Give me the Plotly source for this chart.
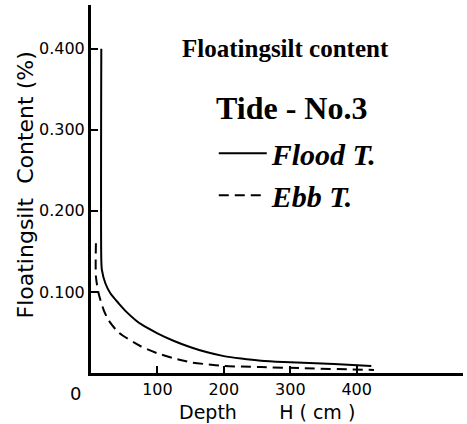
import plotly.graph_objects as go

# Depth H (cm) and floating silt content (%)
flood_depth = [15.5, 15.5, 16.4, 21.6, 29.1, 41.6, 54.1, 66.8, 74.8, 100, 125, 150, 175, 200, 226, 256, 290, 366, 422]
flood_content = [0.400, 0.1395, 0.1272, 0.1107, 0.0984, 0.0860, 0.0748, 0.0655, 0.0605, 0.0490, 0.0395,
                 0.0318, 0.0255, 0.0208, 0.0178, 0.0152, 0.0136, 0.0110, 0.0086]

ebb_depth = [7.4, 7.4, 11.5, 19, 26.5, 41.6, 74.8, 100, 125, 150, 175, 200, 226, 256, 316, 426]
ebb_content = [0.160, 0.119, 0.098, 0.078, 0.065, 0.050, 0.033, 0.0243, 0.0181, 0.0132, 0.0107,
               0.0088, 0.0079, 0.0073, 0.0060, 0.0037]

x_ticks = [100, 200, 300, 400]
y_ticks = [0.1, 0.2, 0.3, 0.4]
y_tick_labels = ["0.100", "0.200", "0.300", "0.400"]

hand = "DejaVu Sans"
serif = "Liberation Serif"

fig = go.Figure()
fig.add_trace(go.Scatter(x=flood_depth, y=flood_content, mode="lines", name="Flood T.",
                         line=dict(color="black", width=2, shape="spline", smoothing=0.7)))
fig.add_trace(go.Scatter(x=ebb_depth, y=ebb_content, mode="lines", name="Ebb T.",
                         line=dict(color="black", width=2, dash="10px,6px", shape="spline", smoothing=0.7)))

fig.update_layout(
    width=467, height=424,
    margin=dict(l=91, r=4, t=5, b=51),
    paper_bgcolor="white", plot_bgcolor="white",
    showlegend=True,
    legend=dict(
        x=0.33, y=0.668, xanchor="left", yanchor="top",
        font=dict(family=serif, size=30, color="black", weight="bold", style="italic"),
        bgcolor="rgba(0,0,0,0)", itemwidth=48, tracegroupgap=0,
    ),
    xaxis=dict(range=[0, 560], showline=True, linecolor="black", linewidth=3,
               showgrid=False, zeroline=False, ticks="inside", ticklen=7, tickwidth=2,
               tickcolor="black", tickvals=x_ticks,
               tickfont=dict(family=hand, size=16, color="black")),
    yaxis=dict(range=[0, 0.454], showline=True, linecolor="black", linewidth=3,
               showgrid=False, zeroline=False, ticks="inside", ticklen=7, tickwidth=2,
               tickcolor="black", tickvals=y_ticks, ticktext=y_tick_labels,
               tickfont=dict(family=hand, size=16, color="black")),
    annotations=[
        dict(text="Floatingsilt content", xref="paper", yref="paper", x=0.523, y=0.883,
             xanchor="center", yanchor="middle",
             showarrow=False, font=dict(family=serif, size=25, color="black", weight="bold")),
        dict(text="Tide - No.3", xref="paper", yref="paper", x=0.54, y=0.72,
             xanchor="center", yanchor="middle",
             showarrow=False, font=dict(family=serif, size=32, color="black", weight="bold")),
        dict(text="Floatingsilt  Content (%)", xref="paper", yref="paper", x=-0.177, y=0.51,
             xanchor="center", yanchor="middle",
             textangle=-90, showarrow=False, font=dict(family=hand, size=22, color="black")),
        dict(text="Depth       H ( cm )", xref="paper", yref="paper", x=0.472, y=-0.106,
             xanchor="center", yanchor="middle",
             showarrow=False, font=dict(family=hand, size=19, color="black")),
        dict(text="0", xref="x", yref="paper", x=0, y=0, yanchor="top", xshift=-16, yshift=-8,
             showarrow=False, font=dict(family=hand, size=18, color="black")),
    ],
)

fig.write_html("out.html", config={"displayModeBar": False},
               post_script="document.body.style.margin='0';")
